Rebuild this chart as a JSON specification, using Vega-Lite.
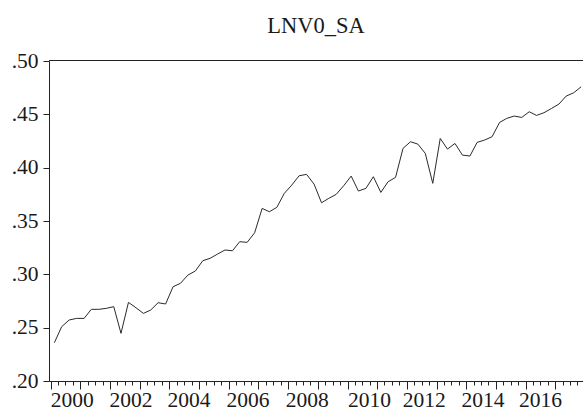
{
  "$schema": "https://vega.github.io/schema/vega-lite/v6.json",
  "width": 534,
  "height": 320,
  "autosize": {"type": "none"},
  "padding": {"left": 49, "top": 61, "right": 0, "bottom": 30},
  "background": "white",
  "title": {
    "text": "LNV0_SA",
    "font": "Liberation Serif",
    "fontSize": 22.5,
    "fontWeight": "normal",
    "color": "#1a1a1a",
    "anchor": "middle",
    "frame": "group",
    "baseline": "alphabetic",
    "offset": -5
  },
  "config": {
    "view": {"stroke": null},
    "axis": {
      "labelFont": "Liberation Serif",
      "labelFontSize": 21.5,
      "labelColor": "#1a1a1a",
      "domainColor": "#222222",
      "tickColor": "#222222",
      "domainWidth": 1,
      "tickWidth": 1,
      "grid": false,
      "title": null
    }
  },
  "data": {
    "values": [
      {"date": "2000-02-15", "v": 0.2359},
      {"date": "2000-05-15", "v": 0.2509},
      {"date": "2000-08-15", "v": 0.2572},
      {"date": "2000-11-15", "v": 0.2587},
      {"date": "2001-02-15", "v": 0.2587},
      {"date": "2001-05-15", "v": 0.2672},
      {"date": "2001-08-15", "v": 0.2672},
      {"date": "2001-11-15", "v": 0.2681},
      {"date": "2002-02-15", "v": 0.2697},
      {"date": "2002-05-15", "v": 0.2447},
      {"date": "2002-08-15", "v": 0.2737},
      {"date": "2002-11-15", "v": 0.2687},
      {"date": "2003-02-15", "v": 0.2634},
      {"date": "2003-05-15", "v": 0.2665},
      {"date": "2003-08-15", "v": 0.2734},
      {"date": "2003-11-15", "v": 0.2722},
      {"date": "2004-02-15", "v": 0.2884},
      {"date": "2004-05-15", "v": 0.2915},
      {"date": "2004-08-15", "v": 0.2993},
      {"date": "2004-11-15", "v": 0.3031},
      {"date": "2005-02-15", "v": 0.3128},
      {"date": "2005-05-15", "v": 0.3150},
      {"date": "2005-08-15", "v": 0.3190},
      {"date": "2005-11-15", "v": 0.3228},
      {"date": "2006-02-15", "v": 0.3221},
      {"date": "2006-05-15", "v": 0.3306},
      {"date": "2006-08-15", "v": 0.3300},
      {"date": "2006-11-15", "v": 0.3390},
      {"date": "2007-02-15", "v": 0.3618},
      {"date": "2007-05-15", "v": 0.3587},
      {"date": "2007-08-15", "v": 0.3628},
      {"date": "2007-11-15", "v": 0.3759},
      {"date": "2008-02-15", "v": 0.3837},
      {"date": "2008-05-15", "v": 0.3924},
      {"date": "2008-08-15", "v": 0.3937},
      {"date": "2008-11-15", "v": 0.3846},
      {"date": "2009-02-15", "v": 0.3671},
      {"date": "2009-05-15", "v": 0.3712},
      {"date": "2009-08-15", "v": 0.3750},
      {"date": "2009-11-15", "v": 0.3831},
      {"date": "2010-02-15", "v": 0.3921},
      {"date": "2010-05-15", "v": 0.3781},
      {"date": "2010-08-15", "v": 0.3806},
      {"date": "2010-11-15", "v": 0.3915},
      {"date": "2011-02-15", "v": 0.3768},
      {"date": "2011-05-15", "v": 0.3868},
      {"date": "2011-08-15", "v": 0.3909},
      {"date": "2011-11-15", "v": 0.4181},
      {"date": "2012-02-15", "v": 0.4243},
      {"date": "2012-05-15", "v": 0.4221},
      {"date": "2012-08-15", "v": 0.4134},
      {"date": "2012-11-15", "v": 0.3853},
      {"date": "2013-02-15", "v": 0.4274},
      {"date": "2013-05-15", "v": 0.4174},
      {"date": "2013-08-15", "v": 0.4227},
      {"date": "2013-11-15", "v": 0.4118},
      {"date": "2014-02-15", "v": 0.4109},
      {"date": "2014-05-15", "v": 0.4237},
      {"date": "2014-08-15", "v": 0.4259},
      {"date": "2014-11-15", "v": 0.4290},
      {"date": "2015-02-15", "v": 0.4424},
      {"date": "2015-05-15", "v": 0.4462},
      {"date": "2015-08-15", "v": 0.4484},
      {"date": "2015-11-15", "v": 0.4471},
      {"date": "2016-02-15", "v": 0.4524},
      {"date": "2016-05-15", "v": 0.4490},
      {"date": "2016-08-15", "v": 0.4515},
      {"date": "2016-11-15", "v": 0.4555},
      {"date": "2017-02-15", "v": 0.4596},
      {"date": "2017-05-15", "v": 0.4671},
      {"date": "2017-08-15", "v": 0.4702},
      {"date": "2017-11-15", "v": 0.4758}
    ]
  },
  "layer": [
    {
      "mark": {"type": "line", "color": "#2a2a2a", "strokeWidth": 1, "clip": true},
      "encoding": {
        "x": {
          "field": "date",
          "type": "temporal",
          "scale": {
            "type": "utc",
            "domain": [
              {"year": 1999, "month": 12, "date": 11, "utc": true},
              {"year": 2017, "month": 12, "date": 8, "utc": true}
            ],
            "nice": false
          },
          "axis": {
            "orient": "bottom",
            "tickCount": {"interval": "month", "step": 3},
            "tickSize": {"expr": "utcmonth(datum.value) == 0 ? 8 : 4"},
            "labelExpr": "utcmonth(datum.value) == 0 && utcyear(datum.value) % 2 == 0 ? utcFormat(datum.value, '%Y') : ''",
            "labelOffset": {"expr": "utcyear(datum.value) == 2000 ? 21 : utcyear(datum.value) == 2002 ? 20.5 : utcyear(datum.value) == 2004 ? 19 : utcyear(datum.value) == 2006 ? 18.7 : utcyear(datum.value) == 2008 ? 18.5 : utcyear(datum.value) == 2010 ? 21.5 : utcyear(datum.value) == 2012 ? 16.8 : utcyear(datum.value) == 2014 ? 16.2 : 14.5"},
            "labelOverlap": false,
            "labelFlush": false,
            "labelBound": false,
            "labelPadding": 0,
            "labelAlign": "center"
          }
        },
        "y": {
          "field": "v",
          "type": "quantitative",
          "scale": {"domain": [0.2, 0.5], "nice": false, "zero": false},
          "axis": {
            "values": [0.2, 0.25, 0.3, 0.35, 0.4, 0.45, 0.5],
            "labelExpr": "replace(format(datum.value, '.2f'), '0.', '.')",
            "tickSize": 6,
            "labelPadding": 5
          }
        }
      }
    },
    {
      "mark": {"type": "rule", "color": "#222222", "strokeWidth": 1, "yOffset": -0.5},
      "encoding": {"y": {"datum": 0.5}}
    }
  ]
}
